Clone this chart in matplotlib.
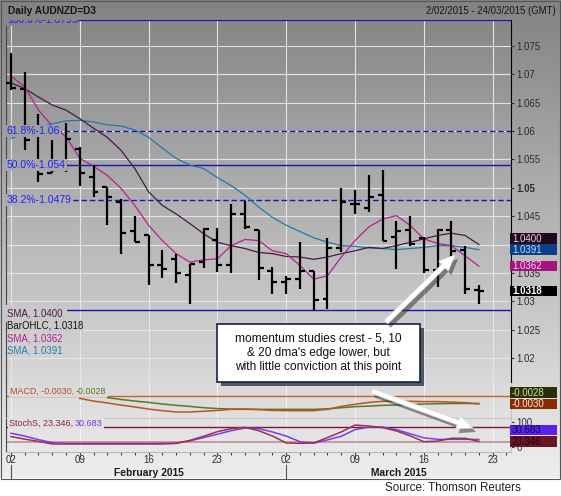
import numpy as np
import matplotlib as mpl
mpl.use('Agg')
import matplotlib.pyplot as plt
from matplotlib.patches import Rectangle, FancyArrow
from matplotlib.transforms import blended_transform_factory

plt.rcParams['font.family'] = ['Liberation Sans', 'DejaVu Sans']

W, H = 561, 496
CHART_BOTTOM = 478   # bottom edge of the grey chart window (px)

# ---------------- data ----------------
day_labels = ['02', '09', '16', '23', '02', '09', '16', '23']
label_pos = [0, 5, 10, 15, 20, 25, 30, 35]
months = ['February 2015', 'March 2015']
month_start = [0, 20]

opens = [1.0684, 1.0675, 1.0593, 1.0527, 1.0545, 1.0569, 1.0519, 1.0501, 1.0475, 1.0423,
         1.0417, 1.0364, 1.0375, 1.0347, 1.0369, 1.0408, 1.0364, 1.0453, 1.0426, 1.0354,
         1.0334, 1.0340, 1.0354, 1.0304, 1.0394, 1.0472, 1.0465, 1.0488, 1.0413, 1.0425,
         1.0412, 1.0355, 1.0425, 1.0391, 1.0319]
highs = [1.0737, 1.0705, 1.0630, 1.0584, 1.0614, 1.0572, 1.0540, 1.0501, 1.0481, 1.0451,
         1.0417, 1.0391, 1.0384, 1.0366, 1.0429, 1.0429, 1.0471, 1.0477, 1.0426, 1.0361,
         1.0345, 1.0404, 1.0354, 1.0412, 1.0500, 1.0497, 1.0522, 1.0531, 1.0441, 1.0450,
         1.0414, 1.0427, 1.0441, 1.0397, 1.0329]
lows = [1.0672, 1.0566, 1.0510, 1.0526, 1.0528, 1.0504, 1.0484, 1.0434, 1.0384, 1.0404,
        1.0329, 1.0341, 1.0332, 1.0296, 1.0358, 1.0352, 1.0349, 1.0428, 1.0338, 1.0313,
        1.0313, 1.0322, 1.0284, 1.0286, 1.0386, 1.0453, 1.0457, 1.0406, 1.0357, 1.0398,
        1.0349, 1.0325, 1.0379, 1.0313, 1.0295]
closes = [1.0676, 1.0585, 1.0525, 1.0532, 1.0586, 1.0526, 1.0493, 1.0484, 1.0420, 1.0404,
          1.0364, 1.0357, 1.0349, 1.0366, 1.0428, 1.0364, 1.0453, 1.0431, 1.0359, 1.0334,
          1.0340, 1.0354, 1.0302, 1.0394, 1.0475, 1.0472, 1.0484, 1.0406, 1.0424, 1.0401,
          1.0355, 1.0425, 1.0389, 1.0322, 1.0318]

sma5 = [1.0697, 1.0678, 1.0637, 1.0609, 1.0590, 1.0552, 1.0538, 1.0522, 1.0499, 1.0469,
        1.0434, 1.0407, 1.0384, 1.0369, 1.0373, 1.0375, 1.0398, 1.0409, 1.0407, 1.0389,
        1.0384, 1.0363, 1.0339, 1.0345, 1.0378, 1.0407, 1.0431, 1.0445, 1.0451, 1.0434,
        1.0410, 1.0402, 1.0398, 1.0380, 1.0362]
sma10 = [1.0685, 1.0675, 1.0660, 1.0646, 1.0637, 1.0622, 1.0605, 1.0589, 1.0566, 1.0534,
         1.0493, 1.0469, 1.0454, 1.0437, 1.0419, 1.0404, 1.0398, 1.0393, 1.0386, 1.0384,
         1.0379, 1.0378, 1.0374, 1.0378, 1.0384, 1.0389, 1.0395, 1.0393, 1.0398, 1.0404,
         1.0410, 1.0416, 1.0420, 1.0416, 1.0400]
sma20 = [1.0587, 1.0596, 1.0606, 1.0613, 1.0618, 1.0619, 1.0616, 1.0611, 1.0609, 1.0602,
         1.0589, 1.0570, 1.0552, 1.0540, 1.0534, 1.0518, 1.0504, 1.0487, 1.0466, 1.0448,
         1.0434, 1.0423, 1.0412, 1.0404, 1.0398, 1.0397, 1.0394, 1.0393, 1.0391, 1.0393,
         1.0395, 1.0398, 1.0398, 1.0395, 1.0391]

nan = np.nan
macd = [nan, nan, nan, nan, nan,
        -0.0009, -0.0019, -0.0026, -0.0034, -0.0041, -0.0049, -0.0055, -0.0060, -0.0060,
        -0.0057, -0.0054, -0.0050, -0.0050, -0.0051, -0.0054, -0.0055, -0.0055, -0.0055,
        -0.0050, -0.0039, -0.0031, -0.0024, -0.0020, -0.0019, -0.0020, -0.0021, -0.0021,
        -0.0023, -0.0025, -0.0030]
macd_signal = [nan, nan, nan, nan, nan, nan, nan,
               -0.0006, -0.0013, -0.0019, -0.0024, -0.0030, -0.0035, -0.0039, -0.0044,
               -0.0047, -0.0049, -0.0049, -0.0050, -0.0050, -0.0050, -0.0050, -0.0050,
               -0.0048, -0.0044, -0.0040, -0.0038, -0.0035, -0.0034, -0.0032, -0.0030,
               -0.0029, -0.0028, -0.0028, -0.0028]

stoch_k = [42, 32, 23, 13, 13, 13, 13, 13, 13, 13, 13, 13, 15, 27, 43, 61, 73, 78, 65, 44,
           17, 15.6, 17, 38, 60, 87, 83, 77, 64, 45, 22, 24, 35, 35, 23.346]
stoch_d = [55, 44, 30, 18, 15.6, 15.6, 15.6, 15.6, 15.6, 15.6, 15.6, 15.6, 16.5, 25, 38,
           51, 65, 75, 73, 60, 44, 22, 16, 29, 43, 69, 79, 79, 69, 53, 37, 31, 31, 31, 30.683]

fib_levels = [1.0795, 1.0600, 1.0540, 1.0479, 1.0284]
fib_names = ['100.0%-1.0795', '61.8%-1.06', '50.0%-1.054', '38.2%-1.0479', '0.0%-1.0284']
fib_dashed = [False, True, False, True, False]

price_ticks = [1.02, 1.025, 1.03, 1.035, 1.04, 1.045, 1.05, 1.055, 1.06, 1.065, 1.07, 1.075]

note_lines = ['momentum studies crest - 5, 10',
              "& 20 dma's edge lower, but",
              'with little conviction at this point']


def grey(ypx):
    g = 0.51 + 0.42 * min(max(ypx, 0), CHART_BOTTOM) / CHART_BOTTOM
    return (g, g, g)


def frac(x0, y0, x1, y1):
    return [x0 / W, 1 - y1 / H, (x1 - x0) / W, (y1 - y0) / H]


def ypix(ax, v):
    return H - ax.transData.transform((0, v))[1]


x = np.arange(len(closes))
xlim = (-0.36, 36.32)

fig = plt.figure(figsize=(W / 100, H / 100), dpi=100)

# background: grey gradient window, white strip below
bg = fig.add_axes([0, 0, 1, 1])
bg.set_axis_off()
rows = np.array([grey(r)[0] if r < CHART_BOTTOM else 1.0 for r in range(H)])
bg.imshow(np.repeat(rows[:, None], W, axis=1), cmap='gray', vmin=0, vmax=1,
          extent=[0, W, H, 0], aspect='auto', interpolation='nearest')
bg.set_xlim(0, W)
bg.set_ylim(H, 0)
bg.add_patch(Rectangle((0.5, 0.5), W - 1.5, CHART_BOTTOM, fill=False, ec='#555555', lw=0.8))
bg.text(8, 10.5, 'Daily AUDNZD=D3', fontsize=7.3, fontweight='bold', color='#151515', va='center')
bg.text(556, 10.5, '2/02/2015 - 24/03/2015 (GMT)', fontsize=6.9, color='#151515',
        va='center', ha='right')
bg.text(385, 488, 'Source: Thomson Reuters', fontsize=8.4, color='#222222', va='center')

# ---------------- price panel ----------------
ax = fig.add_axes(frac(6, 19.5, 510.8, 383))
ax.set_facecolor('none')
ax.set_xlim(*xlim)
ax.set_ylim(1.015592, 1.079672)
ax.set_xticks(label_pos)
ax.set_yticks(price_ticks, ['%g' % t for t in price_ticks])
ax.yaxis.tick_right()
ax.tick_params(axis='x', length=0, labelbottom=False)
ax.tick_params(axis='y', length=2.5, width=0.8, color='#333333', labelsize=7,
               labelcolor='#2c2c2c', pad=1.5)
for lbl in ax.get_yticklabels():
    if lbl.get_text() == '1.05':
        lbl.set_fontweight('bold')
ax.grid(True, color='#e4e4e4', lw=0.8, zorder=0)
ax.set_axisbelow(True)
for s in ['top', 'bottom']:
    ax.spines[s].set_visible(False)
ax.spines['right'].set_color('black')
ax.spines['left'].set_color('#444444')

for lvl, dashed in zip(fib_levels, fib_dashed):
    lw = 1.6 if lvl == fib_levels[0] else 1.0
    ax.axhline(lvl, color='#1515c0', lw=lw, ls=(0, (4, 2)) if dashed else '-', zorder=1.5)

ax.plot(x, sma20, color='#2279a8', lw=0.9, zorder=2)
ax.plot(x, sma10, color='#4a1846', lw=0.9, zorder=2)
ax.plot(x, sma5, color='#b81f92', lw=0.9, zorder=2)

ax.vlines(x, lows, highs, color='black', lw=1.6, zorder=3)
ax.hlines(opens, x - 0.36, x, color='black', lw=1.6, zorder=3)
ax.hlines(closes, x, x + 0.36, color='black', lw=1.6, zorder=3)

for lvl, name in zip(fib_levels, fib_names):
    ax.text(-0.3, lvl, name, color='#2020ff', fontsize=7.5, va='center', ha='left',
            zorder=5, clip_on=True,
            bbox=dict(boxstyle='square,pad=0.08', fc=grey(ypix(ax, lvl)), ec='none'))

# ---------------- MACD panel ----------------
ax2 = fig.add_axes(frac(6, 383, 510.8, 417.5))
ax2.set_facecolor('none')
ax2.set_xlim(*xlim)
ax2.set_ylim(-0.0080625, 0.004875)
ax2.set_xticks(label_pos)
ax2.set_yticks([])
ax2.tick_params(axis='x', length=0, labelbottom=False)
ax2.grid(True, axis='x', color='#f0f0f0', lw=0.8)
ax2.set_axisbelow(True)
ax2.spines['bottom'].set_visible(False)
ax2.spines['top'].set_visible(False)
ax2.spines['left'].set_color('#444444')
ax2.spines['right'].set_color('#c4c4c4')
ax2.axhline(0, color='#c4632c', lw=1.0)
ax2.plot(x, macd_signal, color='#5a7a1e', lw=1.1)
ax2.plot(x, macd, color='#b4552a', lw=1.1)

# ---------------- stochastic panel ----------------
ax3 = fig.add_axes(frac(6, 417.5, 510.8, 452))
ax3.set_facecolor('none')
ax3.set_xlim(*xlim)
ax3.set_ylim(-18.36, 116.4)
ax3.set_xticks(label_pos, day_labels)
ax3.set_xticks(np.arange(37), minor=True)
ax3.set_yticks([0, 100], ['0', '100'])
ax3.yaxis.tick_right()
ax3.tick_params(axis='x', which='both', direction='out', length=2, width=0.8,
                color='#404040', labelsize=7, labelcolor='#2c2c2c', pad=0.5)
ax3.tick_params(axis='y', length=2.5, width=0.8, color='#333333', labelsize=7,
                labelcolor='#2c2c2c', pad=1.5)
ax3.grid(True, axis='x', which='major', color='#f2f2f2', lw=0.8)
ax3.set_axisbelow(True)
ax3.spines['top'].set_color('#c4c4c4')
ax3.spines['bottom'].set_color('#b8b8b8')
ax3.spines['left'].set_color('#444444')
ax3.spines['right'].set_color('#c4c4c4')
ax3.axhline(80, color='#7a1a2c', lw=1.0)
ax3.axhline(20, color='#c49aa2', lw=1.4)
ax3.plot(x, stoch_d, color='#7a3cf2', lw=1.1)
ax3.plot(x, stoch_k, color='#9a3246', lw=1.1)

# ---------------- overlay (labels, boxes, note, arrows) ----------------
ov = fig.add_axes([0, 0, 1, 1])
ov.set_axis_off()
ov.set_xlim(0, W)
ov.set_ylim(H, 0)

blend = blended_transform_factory(ax3.transData, ov.transData)
for m, start in zip(months, month_start):
    ov.plot([start, start], [465, 478], color='#555555', lw=0.8, transform=blend)
    end = month_start[month_start.index(start) + 1] if start != month_start[-1] else xlim[1]
    ov.text((start + end) / 2, 473, m, fontsize=7.4, fontweight='bold', color='#1a1a1a',
            ha='center', va='center', transform=blend)

# legend block, bottom-left of price panel (first entry sits over the 0% label)
legend_items = [('SMA, %.4f' % sma10[-1], '#4a1846'),
                ('BarOHLC, %.4f' % closes[-1], '#111111'),
                ('SMA, %.4f' % sma5[-1], '#b0208c'),
                ('SMA, %.4f' % sma20[-1], '#2a78b0')]
for i, (txt, col) in enumerate(legend_items):
    yy = 313.5 + 12.4 * i
    pad = 0.4 if i == 0 else 0.05
    ov.text(7, yy, txt, color=col, fontsize=6.9, va='center',
            bbox=dict(boxstyle='square,pad=%g' % pad, fc=grey(yy), ec='none'))

# indicator captions
ov.text(10, 391.5, 'MACD, %.4f, ' % macd[-1], color='#b4501e', fontsize=6.4, va='center',
        bbox=dict(boxstyle='square,pad=0.1', fc=grey(391.5), ec='none'))
ov.text(76, 391.5, '%.4f' % macd_signal[-1], color='#56761a', fontsize=6.4, va='center',
        bbox=dict(boxstyle='square,pad=0.15', fc=grey(391.5), ec='none'))
ov.text(9, 423.5, 'StochS, %.3f, ' % stoch_k[-1], color='#8b2040', fontsize=6.5, va='center',
        bbox=dict(boxstyle='square,pad=0.1', fc=grey(423.5), ec='none'))
ov.text(75, 423.5, '%.3f' % stoch_d[-1], color='#7a30f0', fontsize=6.5, va='center',
        bbox=dict(boxstyle='square,pad=0.15', fc=grey(423.5), ec='none'))


def value_boxes(axis, items, fmt):
    # items: (value, face, text colour, bold); stacked upward so they never overlap
    prev = None
    for val, fc, tc, bold in sorted(items, key=lambda t: t[0]):
        yy = ypix(axis, val)
        if prev is not None and yy > prev - 11.3:
            yy = prev - 11.3
        prev = yy
        ov.add_patch(Rectangle((510.5, yy - 5.4), 47, 10.8, fc=fc, ec='none'))
        ov.text(512, yy + 0.3, fmt % val, color=tc, fontsize=7, va='center', ha='left',
                fontweight='bold' if bold else 'normal')


value_boxes(ax, [(closes[-1], 'black', 'white', True),
                 (sma5[-1], '#a3147f', '#ffd6f2', False),
                 (sma20[-1], '#0c3f88', '#bfe2ff', False),
                 (sma10[-1], '#1e0a1c', '#f2cdf0', False)], '%.4f')
value_boxes(ax2, [(macd[-1], '#8a2a02', '#ffeede', False),
                  (macd_signal[-1], '#26300a', '#d6e68a', False)], '%.4f')
value_boxes(ax3, [(stoch_k[-1], '#6a1424', '#1a0808', False),
                  (stoch_d[-1], '#5a20ee', '#10103a', False)], '%.3f')

# comment box
ov.add_patch(Rectangle((221, 328), 203, 58, fc='#262b36', ec='none', alpha=0.75))
ov.add_patch(Rectangle((217, 324), 203, 58, fc='white', ec='#14204a', lw=1.2))
for i, line in enumerate(note_lines):
    ov.text(318.5, 338.5 + 14.2 * i, line, fontsize=8.6, color='#111111',
            ha='center', va='center')

# white arrows with soft shadows
for (x0, y0, x1, y1) in [(386, 322, 455, 255), (372, 391, 473, 428)]:
    ov.add_patch(FancyArrow(x0 + 3, y0 + 4, x1 - x0, y1 - y0, width=5, head_width=14,
                            head_length=16, length_includes_head=True,
                            fc='#2a2a2a', ec='none', alpha=0.5))
    ov.add_patch(FancyArrow(x0, y0, x1 - x0, y1 - y0, width=5, head_width=14,
                            head_length=16, length_includes_head=True,
                            fc='white', ec='#d8d8d8', lw=0.5))

fig.savefig('out.png', dpi=100)
